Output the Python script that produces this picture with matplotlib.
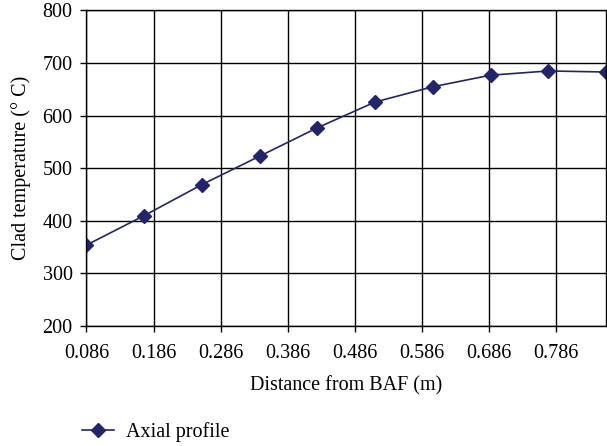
import matplotlib

matplotlib.use("Agg")

import matplotlib.pyplot as plt
import numpy as np

# Axial clad temperature profile
distance = [0.086, 0.172, 0.258, 0.344, 0.430, 0.516, 0.602, 0.688, 0.774, 0.860]
clad_temp = [354, 410, 469, 523, 577, 626, 655, 677, 685, 683]
x_ticks = [0.086, 0.186, 0.286, 0.386, 0.486, 0.586, 0.686, 0.786]
y_ticks = [200, 300, 400, 500, 600, 700, 800]

LINE_COLOR = "#23246e"

plt.rcParams["font.family"] = ["Liberation Serif", "DejaVu Serif"]

fig = plt.figure(figsize=(6.07, 4.46), dpi=100)
ax = fig.add_axes([0.1425, 0.269, 0.856, 0.7075])

ax.plot(distance, clad_temp, color=LINE_COLOR, linewidth=1.2, marker="D",
        markersize=7, label="Axial profile")

ax.set_xlim(0.086, 0.860)
ax.set_ylim(200, 800)
ax.set_xticks(x_ticks)
ax.set_xticklabels([f"{t:.3f}" for t in x_ticks])
ax.set_yticks(y_ticks)
ax.grid(True, color="black", linewidth=1.0)
ax.set_axisbelow(True)
for spine in ax.spines.values():
    spine.set_color("black")
    spine.set_linewidth(1.0)
ax.tick_params(direction="out", length=4, width=1.0, labelsize=14.5, colors="black")
ax.tick_params(axis="x", pad=9)
ax.tick_params(axis="y", pad=6)

ax.set_xlabel("Distance from BAF (m)", fontsize=14.5, labelpad=9)
ax.set_ylabel("Clad temperature (° C)", fontsize=14.5, labelpad=8)

fig.legend(loc="lower left", bbox_to_anchor=(0.105, -0.032), frameon=False,
           fontsize=14.5, handlelength=1.6, handletextpad=0.6)

fig.savefig("out.png", dpi=100, facecolor="white")
